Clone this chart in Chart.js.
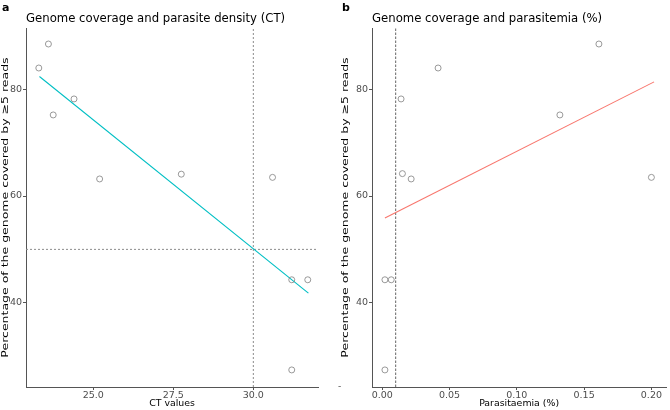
<!DOCTYPE html>
<html>
<head>
<meta charset="utf-8">
<script src="https://cdn.jsdelivr.net/npm/chart.js@4/dist/chart.umd.min.js"></script>
<style>
  html, body { margin:0; padding:0; background:#fff; }
  #wrap { position:relative; width:670px; height:410px; }
  .panel { position:absolute; top:0; width:335px; height:410px; }
</style>
</head>
<body>
<div id="wrap">
  <div class="panel" style="left:0"><canvas id="chart-ct"></canvas></div>
  <div class="panel" style="left:335px"><canvas id="chart-para"></canvas></div>
</div>
<script>
// ── Data ─────────────────────────────────────────────────────
const ctValues    = [23.3, 23.6, 23.75, 24.4, 25.2, 27.75, 30.6, 31.2, 31.7, 31.2];
const ctCoverage  = [84.0, 88.5, 75.2, 78.2, 63.2, 64.1, 63.5, 44.3, 44.3, 27.4];
const ctFitX      = [23.32, 31.72];
const ctFitY      = [82.4, 41.8];
const ctCutoff    = 30;
const ctTicks     = [25, 27.5, 30];
const ctRange     = [22.9, 32.02];

const paraValues   = [0.002, 0.0067, 0.002, 0.014, 0.015, 0.0215, 0.0415, 0.132, 0.161, 0.2];
const paraCoverage = [44.3, 44.3, 27.4, 78.2, 64.2, 63.2, 84.0, 75.2, 88.5, 63.5];
const paraFitX     = [0.002, 0.202];
const paraFitY     = [55.9, 81.4];
const paraCutoff   = 0.01;
const paraTicks    = [0, 0.05, 0.1, 0.15, 0.2];
const paraRange    = [-0.0076, 0.211];

const coverageCutoff = 50;
const coverageTicks  = [40, 60, 80];
const coverageRange  = [24.2, 91.5];

const Y_LABEL = 'Percentage of the genome covered by \u22655 reads';
const FONT = '"DejaVu Sans", sans-serif';
const AXIS = '#555555', TICK_TXT = '#4d4d4d';

// ── Text drawn outside the axes (panel letter, title, y label) ─
const panelText = {
  id: 'panelText',
  afterDraw(chart, args, o) {
    const { ctx, chartArea } = chart;
    ctx.save();
    ctx.fillStyle = '#000';
    ctx.textBaseline = 'alphabetic';
    ctx.font = 'bold 11px ' + FONT;
    ctx.fillText(o.letter, o.letterX, 11);
    ctx.font = '11.7px ' + FONT;
    ctx.fillText(o.title, chartArea.left, 22);

    // y label: long like the original but narrow across its height
    ctx.save();
    ctx.translate(o.yLabelX, (chartArea.top + chartArea.bottom) / 2);
    ctx.rotate(-Math.PI / 2);
    ctx.scale(1, 0.74);
    ctx.font = '12.5px ' + FONT;
    ctx.textAlign = 'center';
    ctx.textBaseline = 'middle';
    ctx.fillText(Y_LABEL, 0, 0);
    ctx.restore();

    if (o.stray) {
      ctx.fillStyle = TICK_TXT;
      ctx.font = '9px ' + FONT;
      ctx.fillText('-', 3, 389);
    }
    ctx.restore();
  }
};

function pts(xs, ys) { return xs.map((x, i) => ({ x, y: ys[i] })); }

function makeChart(id, cfg) {
  const scatter = { data: pts(cfg.xs, cfg.ys), pointRadius: 3, pointHoverRadius: 3, pointBorderWidth: 0.8,
    borderColor: '#808080', backgroundColor: 'rgba(0,0,0,0)', order: 0 };
  const fit = { data: pts(cfg.fitX, cfg.fitY), showLine: true, pointRadius: 0, borderColor: cfg.fitColor,
    borderWidth: 1.1, order: 1 };
  const refs = cfg.refs.map(r => ({ data: r, showLine: true, pointRadius: 0, borderColor: cfg.refColor,
    borderWidth: 1, borderDash: cfg.dash, order: 2 }));

  return new Chart(document.getElementById(id), {
    type: 'scatter',
    data: { datasets: [scatter, fit, ...refs] },
    options: {
      responsive: true, maintainAspectRatio: false, animation: false,
      layout: { padding: { left: 0, right: cfg.padRight, top: 28, bottom: 0 } },
      plugins: { legend: { display: false }, tooltip: { enabled: false },
        panelText: { letter: cfg.letter, letterX: cfg.letterX, title: cfg.title, stray: cfg.stray, yLabelX: cfg.yLabelX } },
      scales: {
        x: {
          type: 'linear', min: cfg.xRange[0], max: cfg.xRange[1],
          afterBuildTicks: s => { s.ticks = cfg.xTicks.map(v => ({ value: v })); },
          afterFit: s => { s.height = 23; },
          ticks: { callback: v => Number(v).toFixed(cfg.dec), color: TICK_TXT, font: { family: FONT, size: 9.5 },
            padding: 0, maxRotation: 0, autoSkip: false },
          grid: { drawOnChartArea: false, tickLength: 3, color: AXIS },
          border: { color: AXIS, width: 1 },
          title: { display: true, text: cfg.xLabel, color: '#000', font: { family: FONT, size: 9.4 }, padding: { bottom: 0.5 } }
        },
        y: {
          type: 'linear', min: coverageRange[0], max: coverageRange[1],
          afterBuildTicks: s => { s.ticks = coverageTicks.map(v => ({ value: v })); },
          afterFit: s => { s.width = cfg.yWidth; },
          ticks: { color: TICK_TXT, font: { family: FONT, size: 9.5 }, padding: 1 },
          grid: { drawOnChartArea: false, tickLength: 3, color: AXIS },
          border: { color: AXIS, width: 1 },
          title: { display: false }
        }
      }
    },
    plugins: [panelText]
  });
}

makeChart('chart-ct', {
  xs: ctValues, ys: ctCoverage, fitX: ctFitX, fitY: ctFitY, fitColor: '#00BFC4',
  refs: [
    [{ x: ctCutoff, y: coverageRange[0] }, { x: ctCutoff, y: coverageRange[1] }],
    [{ x: ctRange[0], y: coverageCutoff }, { x: ctRange[1], y: coverageCutoff }]
  ],
  refColor: '#8c8c8c', dash: [2, 2],
  xRange: ctRange, xTicks: ctTicks, dec: 1, xLabel: 'CT values',
  padRight: 17, yWidth: 26, yLabelX: 5.5,
  letter: 'a', letterX: 2, title: 'Genome coverage and parasite density (CT)', stray: false
});

makeChart('chart-para', {
  xs: paraValues, ys: paraCoverage, fitX: paraFitX, fitY: paraFitY, fitColor: '#F8766D',
  refs: [
    [{ x: paraCutoff, y: coverageRange[0] }, { x: paraCutoff, y: coverageRange[1] }]
  ],
  refColor: '#666666', dash: [2.5, 1.5],
  xRange: paraRange, xTicks: paraTicks, dec: 2, xLabel: 'Parasitaemia (%)',
  padRight: 3, yWidth: 37, yLabelX: 11,
  letter: 'b', letterX: 7, title: 'Genome coverage and parasitemia (%)', stray: true
});
</script>
</body>
</html>
